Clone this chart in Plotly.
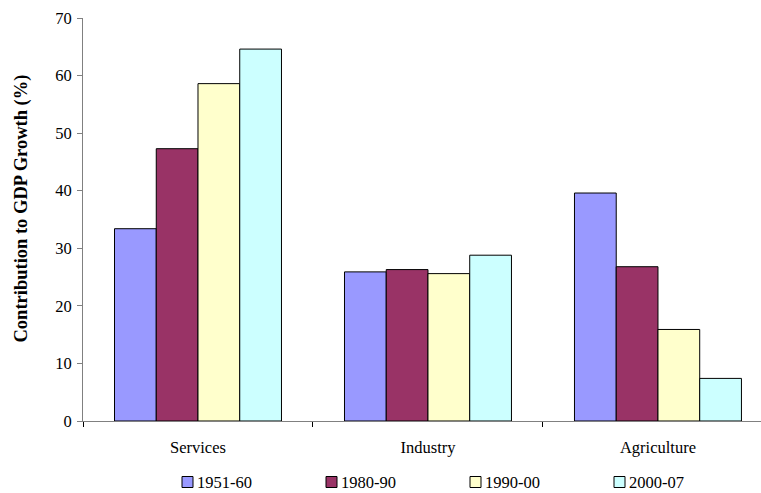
import plotly.graph_objects as go

categories = ["Services", "Industry", "Agriculture"]
periods = ["1951-60", "1980-90", "1990-00", "2000-07"]
v_1951_60 = [33.4, 25.9, 39.6]
v_1980_90 = [47.3, 26.3, 26.8]
v_1990_00 = [58.6, 25.6, 15.9]
v_2000_07 = [64.6, 28.8, 7.4]
y_ticks = [0, 10, 20, 30, 40, 50, 60, 70]

series = [v_1951_60, v_1980_90, v_1990_00, v_2000_07]
colors = ["#9999FF", "#993366", "#FFFFCC", "#CCFFFF"]

W, H = 761, 493
ML, MR, MT, MB = 83, 0, 18, 72
PW, PH = W - ML - MR, H - MT - MB

FONT = "Liberation Serif"
FS = 16.5


def px_x(p):
    return (p - ML) / PW


def px_y(p):
    return (MT + PH - p) / PH


fig = go.Figure()
for name, vals, col in zip(periods, series, colors):
    fig.add_trace(go.Bar(
        x=categories, y=vals, name=name,
        marker=dict(color=col, line=dict(color="#000000", width=1)),
    ))

# manual legend (pixel layout converted to paper coords)
leg_x0, leg_dx, sq, leg_yc = 182, 144, 11, 482
for i, (name, col) in enumerate(zip(periods, colors)):
    px = leg_x0 + i * leg_dx
    fig.add_shape(type="rect", xref="paper", yref="paper",
                  x0=px_x(px), x1=px_x(px + sq),
                  y0=px_y(leg_yc - sq / 2), y1=px_y(leg_yc + sq / 2),
                  fillcolor=col, line=dict(color="#000000", width=1))
    fig.add_annotation(xref="paper", yref="paper",
                       x=px_x(px + sq + 3), y=px_y(leg_yc),
                       text=name, showarrow=False, xanchor="left",
                       yanchor="middle", borderpad=0,
                       font=dict(family=FONT, size=FS, color="#000000"))

# y-axis title
fig.add_annotation(xref="paper", yref="paper", x=px_x(20.5), y=px_y(209),
                   text="<b>Contribution to GDP Growth (%)</b>", textangle=-90,
                   showarrow=False, xanchor="center", yanchor="middle",
                   borderpad=0,
                   font=dict(family=FONT, size=18.5, color="#000000"))

fig.update_layout(
    width=W, height=H,
    margin=dict(l=ML, r=MR, t=MT, b=MB, autoexpand=False),
    paper_bgcolor="white", plot_bgcolor="white",
    barmode="group", bargap=0.274, bargroupgap=0,
    font=dict(family=FONT, size=FS, color="#000000"),
    showlegend=False,
    xaxis=dict(
        range=[-0.5, 2.448], showgrid=False, showline=True, linecolor="#808080",
        linewidth=1, ticks="outside", tickson="boundaries", ticklen=5,
        tickcolor="#000000", ticklabelstandoff=11, zeroline=False,
        automargin=False, tickfont=dict(family=FONT, size=FS, color="#000000"),
    ),
    yaxis=dict(
        range=[0, 70], tickvals=y_ticks, showgrid=False, showline=True,
        linecolor="#808080", linewidth=1, ticks="outside", ticklen=5,
        tickcolor="#808080", zeroline=False, ticklabelstandoff=2,
        automargin=False, tickfont=dict(family=FONT, size=FS, color="#000000"),
    ),
)

fig.write_html(
    "out.html",
    config={"displayModeBar": False},
    post_script="document.body.style.margin='0';document.body.style.overflow='hidden';",
)
